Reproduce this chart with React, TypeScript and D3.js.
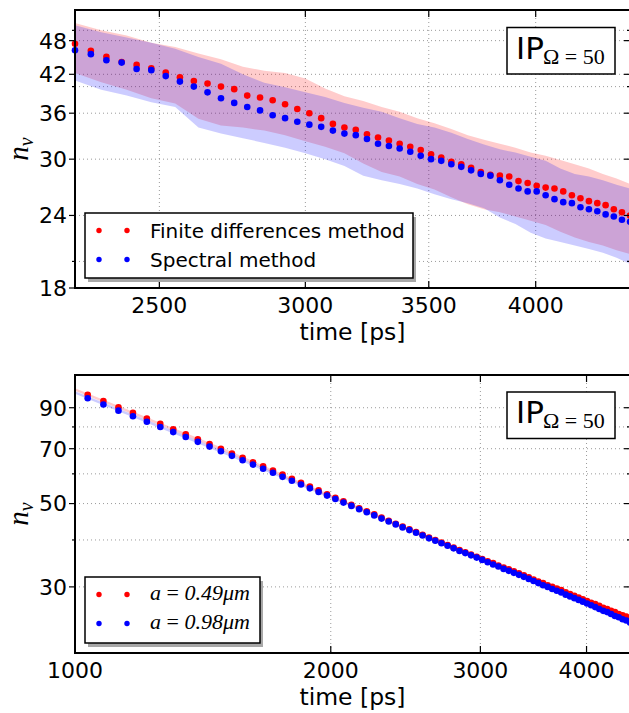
import React from 'react';
import * as d3 from 'd3';

// ---------- data: top panel ----------
const topTimes = [2250, 2295, 2340, 2385, 2430, 2475, 2520, 2565, 2610, 2655, 2700, 2745, 2790, 2835, 2880, 2925, 2970, 3015, 3060, 3105, 3150, 3195, 3240, 3285, 3330, 3375, 3420, 3465, 3510, 3555, 3600, 3645, 3690, 3735, 3780, 3825, 3870, 3915, 3960, 4005, 4050, 4095, 4140, 4185, 4230, 4275, 4320, 4365, 4410, 4455, 4500];
const topFinite = [47.4, 46.1, 45.0, 44.1, 43.6, 43.0, 42.3, 41.5, 40.9, 40.5, 40.0, 39.6, 38.6, 38.3, 37.9, 37.3, 36.6, 36.0, 35.3, 34.5, 34.0, 33.7, 33.1, 32.7, 32.3, 31.9, 31.5, 31.1, 30.6, 30.2, 29.7, 29.4, 29.0, 28.5, 28.2, 28.1, 28.0, 27.5, 27.3, 27.0, 26.8, 26.7, 26.4, 26.0, 25.7, 25.4, 25.2, 25.0, 24.6, 24.3, 24.0];
const topSpectral = [46.2, 45.5, 44.4, 44.0, 42.9, 42.7, 41.7, 40.8, 40.0, 39.1, 38.2, 37.5, 36.9, 36.4, 35.7, 35.3, 34.8, 34.4, 34.1, 33.6, 33.2, 33.0, 32.5, 31.9, 31.6, 31.3, 30.9, 30.4, 30.0, 29.8, 29.4, 29.1, 28.7, 28.3, 28.1, 27.6, 27.1, 26.7, 26.4, 26.4, 26.0, 25.6, 25.3, 25.2, 24.8, 24.6, 24.4, 24.1, 23.9, 23.6, 23.4];
const topBandTimes = [2250, 2325, 2400, 2475, 2550, 2625, 2700, 2775, 2850, 2925, 3000, 3075, 3150, 3225, 3300, 3375, 3450, 3525, 3600, 3675, 3750, 3825, 3900, 3975, 4050, 4125, 4200, 4275, 4350, 4425, 4500];
const topFiniteUpper = [51.5, 50.0, 49.0, 47.6, 46.8, 45.6, 44.6, 43.3, 42.6, 42.2, 41.3, 39.7, 38.5, 37.8, 36.9, 36.2, 35.3, 34.6, 33.8, 33.0, 32.4, 31.9, 31.4, 30.8, 30.4, 29.9, 29.4, 28.9, 28.3, 27.8, 27.2];
const topFiniteLower = [42.2, 40.7, 39.5, 38.2, 37.4, 35.2, 34.3, 34.0, 33.6, 33.0, 32.2, 31.5, 30.7, 29.5, 28.5, 28.0, 27.2, 26.6, 25.8, 25.1, 24.6, 24.3, 23.9, 23.5, 23.1, 22.5, 22.0, 21.6, 21.3, 20.9, 20.6];
const topSpectralUpper = [51.0, 49.6, 48.6, 47.6, 46.5, 45.0, 43.8, 42.0, 40.6, 39.9, 39.1, 38.4, 37.5, 36.8, 36.2, 35.3, 34.5, 34.0, 33.3, 32.5, 31.8, 31.2, 30.8, 30.3, 29.8, 28.9, 28.3, 28.0, 27.6, 27.1, 26.7];
const topSpectralLower = [41.0, 39.5, 38.6, 37.6, 36.9, 34.0, 33.2, 32.6, 32.0, 31.4, 30.7, 30.0, 29.2, 28.1, 27.6, 27.2, 26.7, 26.1, 25.6, 25.2, 24.7, 23.8, 23.2, 22.4, 21.9, 21.6, 21.3, 21.0, 20.7, 20.3, 19.8];
const topXTicks = [2500, 3000, 3500, 4000];
const topYTicks = [18, 24, 30, 36, 42, 48];
const topYMinor = [20, 40, 50];

// ---------- data: bottom panel ----------
const botTimes = [1035, 1080, 1125, 1170, 1215, 1260, 1305, 1350, 1395, 1440, 1485, 1530, 1575, 1620, 1665, 1710, 1755, 1800, 1845, 1890, 1935, 1980, 2025, 2070, 2115, 2160, 2205, 2250, 2295, 2340, 2385, 2430, 2475, 2520, 2565, 2610, 2655, 2700, 2745, 2790, 2835, 2880, 2925, 2970, 3015, 3060, 3105, 3150, 3195, 3240, 3285, 3330, 3375, 3420, 3465, 3510, 3555, 3600, 3645, 3690, 3735, 3780, 3825, 3870, 3915, 3960, 4005, 4050, 4095, 4140, 4185, 4230, 4275, 4320, 4365, 4410, 4455, 4500];
const botSmallA = [97.4, 93.8, 90.3, 87.2, 84.2, 81.5, 78.9, 76.5, 74.2, 72.0, 70.0, 68.0, 66.2, 64.4, 62.8, 61.2, 59.7, 58.2, 56.8, 55.5, 54.2, 52.9, 51.8, 50.7, 49.6, 48.6, 47.7, 46.8, 45.9, 45.0, 44.2, 43.4, 42.7, 42.0, 41.3, 40.6, 40.0, 39.4, 38.8, 38.2, 37.6, 37.1, 36.6, 36.1, 35.6, 35.1, 34.7, 34.2, 33.8, 33.4, 33.0, 32.6, 32.2, 31.8, 31.4, 31.0, 30.7, 30.3, 30.0, 29.7, 29.4, 29.0, 28.7, 28.4, 28.1, 27.8, 27.5, 27.2, 27.0, 26.7, 26.4, 26.2, 25.9, 25.7, 25.4, 25.2, 25.0, 24.8];
const botLargeA = [95.4, 91.8, 88.4, 85.4, 82.6, 80.0, 77.5, 75.2, 73.0, 70.9, 68.9, 67.0, 65.2, 63.5, 61.9, 60.4, 58.9, 57.5, 56.2, 54.9, 53.7, 52.5, 51.4, 50.3, 49.3, 48.3, 47.4, 46.5, 45.6, 44.8, 44.0, 43.2, 42.5, 41.8, 41.1, 40.4, 39.8, 39.2, 38.6, 38.0, 37.4, 36.9, 36.4, 35.9, 35.4, 34.9, 34.4, 34.0, 33.5, 33.1, 32.7, 32.3, 31.9, 31.5, 31.1, 30.7, 30.3, 30.0, 29.6, 29.3, 29.0, 28.6, 28.3, 28.0, 27.7, 27.4, 27.1, 26.8, 26.5, 26.2, 25.9, 25.7, 25.4, 25.1, 24.9, 24.6, 24.4, 24.1];
const botBandTimes = [1000, 1500, 2000, 2500, 3000, 3500, 4000, 4500];
const botSmallUpper = [101.4, 70.0, 52.8, 42.6, 36.1, 31.4, 27.8, 25.1];
const botSmallLower = [99.8, 68.8, 52.0, 42.0, 35.5, 30.8, 27.2, 24.5];
const botLargeUpper = [99.6, 68.9, 52.4, 42.4, 35.9, 31.2, 27.4, 24.4];
const botLargeLower = [98.0, 67.7, 51.6, 41.8, 35.3, 30.6, 26.8, 23.8];
const botXTicks = [1000, 2000, 3000, 4000];
const botYTicks = [30, 50, 70, 90];
const botYMinor = [40, 60, 80];

const RED = '#ff0000';
const BLUE = '#0000ff';
const SANS = "'DejaVu Sans', sans-serif";
const SERIF = "'Liberation Serif', 'DejaVu Serif', serif";

type Band = { times: number[]; upper: number[]; lower: number[]; color: string };
type Series = { times: number[]; values: number[]; color: string };

function Panel(props: {
  id: string;
  xDomain: [number, number];
  yDomain: [number, number];
  left: number; right: number; top: number; bottom: number;
  xTicks: number[]; yTicks: number[]; yMinor: number[];
  bands: Band[]; series: Series[];
  legend: { x: number; y: number; w: number; h: number; labels: React.ReactNode[] };
  ipY: number;
}) {
  const { left, right, top, bottom } = props;
  const xs = d3.scaleLog().domain(props.xDomain).range([left, right]);
  const ys = d3.scaleLog().domain(props.yDomain).range([bottom, top]);
  const gridY = [...props.yTicks, ...props.yMinor];
  const area = d3.area<[number, number, number]>()
    .x((d) => xs(d[0]))
    .y0((d) => ys(d[2]))
    .y1((d) => ys(d[1]));
  const lg = props.legend;
  const clip = `clip-${props.id}`;
  return (
    <g>
      <defs>
        <clipPath id={clip}>
          <rect x={left} y={top} width={right - left} height={bottom - top} />
        </clipPath>
      </defs>
      {/* grid */}
      <g stroke="#9a9a9a" strokeWidth={1} strokeDasharray="1,3" fill="none">
        {gridY.map((v) => (
          <line key={'gy' + v} x1={left} x2={right} y1={ys(v)} y2={ys(v)} />
        ))}
        {props.xTicks.map((v) => (
          <line key={'gx' + v} x1={xs(v)} x2={xs(v)} y1={top} y2={bottom} />
        ))}
      </g>
      {/* bands */}
      <g clipPath={`url(#${clip})`}>
        {props.bands.map((b, i) => (
          <path
            key={i}
            d={area(b.times.map((t, j) => [t, b.upper[j], b.lower[j]] as [number, number, number])) || ''}
            fill={b.color}
            fillOpacity={0.2}
            stroke="none"
          />
        ))}
      </g>
      {/* points */}
      {props.series.map((s, i) => (
        <g key={i} fill={s.color}>
          {s.times.map((t, j) => (
            <circle key={j} cx={xs(t)} cy={ys(s.values[j])} r={3.3} />
          ))}
        </g>
      ))}
      {/* spines */}
      <rect x={left} y={top} width={right - left} height={bottom - top} fill="none" stroke="#000" strokeWidth={2} />
      {/* ticks */}
      <g stroke="#000" strokeWidth={1.2}>
        {props.yTicks.map((v) => (
          <g key={'ty' + v}>
            <line x1={left - 6} x2={left} y1={ys(v)} y2={ys(v)} />
            <line x1={right - 6} x2={right} y1={ys(v)} y2={ys(v)} />
          </g>
        ))}
        {props.yMinor.map((v) => (
          <g key={'tm' + v}>
            <line x1={left - 3} x2={left} y1={ys(v)} y2={ys(v)} />
            <line x1={right - 3} x2={right} y1={ys(v)} y2={ys(v)} />
          </g>
        ))}
        {props.xTicks.map((v) => (
          <g key={'tx' + v}>
            <line x1={xs(v)} x2={xs(v)} y1={bottom} y2={bottom - 7} />
            <line x1={xs(v)} x2={xs(v)} y1={top} y2={top + 7} />
          </g>
        ))}
      </g>
      {/* tick labels */}
      <g fontFamily={SANS} fontSize={22} fill="#000">
        {props.yTicks.map((v) => (
          <text key={'ly' + v} x={left - 8} y={ys(v)} dy="0.36em" textAnchor="end">{v}</text>
        ))}
        {props.xTicks.map((v) => (
          <text key={'lx' + v} x={xs(v)} y={bottom + 25} textAnchor="middle">{v}</text>
        ))}
      </g>
      <text x={(left + right) / 2} y={bottom + 52} textAnchor="middle" fontFamily={SANS} fontSize={23.5}>time [ps]</text>
      {/* y label */}
      <text
        transform={`translate(28,${(top + bottom) / 2}) rotate(-90)`}
        textAnchor="middle"
        fontFamily={SERIF}
        fontStyle="italic"
        fontSize={29}
      >
        n<tspan fontSize={20} dy={5}>v</tspan>
      </text>
      {/* legend */}
      <rect x={lg.x + 3} y={lg.y + 4} width={lg.w} height={lg.h} fill="#a8a8a8" />
      <rect x={lg.x} y={lg.y} width={lg.w} height={lg.h} fill="#fff" stroke="#000" strokeWidth={1.5} />
      {props.series.map((s, i) => {
        const cy = lg.y + 17.5 + i * 29;
        return (
          <g key={'lg' + i}>
            <circle cx={lg.x + 14} cy={cy} r={2.7} fill={s.color} />
            <circle cx={lg.x + 42} cy={cy} r={2.7} fill={s.color} />
            {lg.labels[i]}
          </g>
        );
      })}
      {/* IP box */}
      <rect x={507} y={props.ipY} width={108} height={46.5} fill="#fff" stroke="#000" strokeWidth={1.5} />
      <text x={516} y={props.ipY + 31} fontFamily={SANS} fontSize={31}>IP</text>
      <text x={543} y={props.ipY + 36} fontFamily={SERIF} fontSize={22}>Ω = 50</text>
    </g>
  );
}

export default function App() {
  return (
    <svg
      width={629}
      height={713}
      viewBox="0 0 629 713"
      style={{ position: 'absolute', left: 0, top: 0, background: '#fff' }}
    >
      <rect x={0} y={0} width={629} height={713} fill="#fff" />
      <Panel
        id="top"
        xDomain={[2250, 4500]}
        yDomain={[18, 54.2]}
        left={75} right={630} top={10} bottom={288}
        xTicks={topXTicks} yTicks={topYTicks} yMinor={topYMinor}
        bands={[
          { times: topBandTimes, upper: topFiniteUpper, lower: topFiniteLower, color: RED },
          { times: topBandTimes, upper: topSpectralUpper, lower: topSpectralLower, color: BLUE },
        ]}
        series={[
          { times: topTimes, values: topFinite, color: RED },
          { times: topTimes, values: topSpectral, color: BLUE },
        ]}
        legend={{
          x: 85, y: 213, w: 328, h: 65,
          labels: [
            <text key="a" x={150} y={237.5} fontFamily={SANS} fontSize={20}>Finite differences method</text>,
            <text key="b" x={150} y={266.5} fontFamily={SANS} fontSize={20}>Spectral method</text>,
          ],
        }}
        ipY={27.5}
      />
      <Panel
        id="bot"
        xDomain={[1000, 4500]}
        yDomain={[20, 110]}
        left={75} right={630} top={375} bottom={653}
        xTicks={botXTicks} yTicks={botYTicks} yMinor={botYMinor}
        bands={[
          { times: botBandTimes, upper: botSmallUpper, lower: botSmallLower, color: RED },
          { times: botBandTimes, upper: botLargeUpper, lower: botLargeLower, color: BLUE },
        ]}
        series={[
          { times: botTimes, values: botSmallA, color: RED },
          { times: botTimes, values: botLargeA, color: BLUE },
        ]}
        legend={{
          x: 85, y: 577, w: 175, h: 66,
          labels: [
            <text key="a" x={150} y={600} fontFamily={SERIF} fontSize={22}>
              <tspan fontStyle="italic">a</tspan> = <tspan fontStyle="italic">0.49μm</tspan>
            </text>,
            <text key="b" x={150} y={629} fontFamily={SERIF} fontSize={22}>
              <tspan fontStyle="italic">a</tspan> = <tspan fontStyle="italic">0.98μm</tspan>
            </text>,
          ],
        }}
        ipY={392}
      />
    </svg>
  );
}
